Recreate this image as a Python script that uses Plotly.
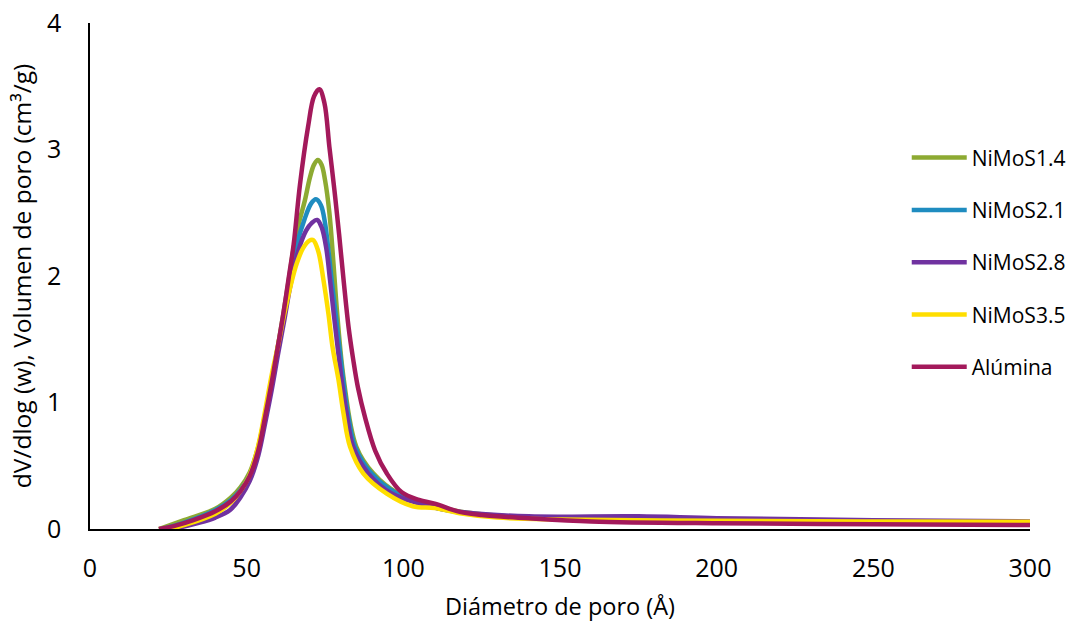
import plotly.graph_objects as go

# Pore size distribution (BJH) for NiMoS catalysts and the alumina support
x_nimos14 = [22, 30, 40, 45, 48, 51, 53.7, 56, 58, 60, 61.7, 63.5, 65.2, 67, 68.6, 70.2, 71.5, 72.7, 73.9, 75, 76.4, 77.7, 78.9, 81, 85, 90.4, 98.4, 110, 120, 140, 200, 250, 300]
y_nimos14 = [0.0, 0.07, 0.16, 0.25, 0.33, 0.45, 0.65, 0.92, 1.18, 1.45, 1.7, 1.98, 2.25, 2.45, 2.6, 2.78, 2.88, 2.917, 2.88, 2.76, 2.5, 2.1, 1.7, 1.18, 0.65, 0.44, 0.28, 0.18, 0.13, 0.09, 0.065, 0.06, 0.056]

x_nimos21 = [23, 30, 40, 45, 48, 51, 53.7, 56, 58, 60, 61.9, 63.7, 65.8, 68.5, 70.5, 72.1, 73.7, 75, 76.1, 77.2, 78.4, 80.8, 82.3, 84.6, 89.8, 97.9, 110, 120, 140, 200, 250, 300]
y_nimos21 = [0.0, 0.05, 0.15, 0.23, 0.31, 0.43, 0.64, 0.91, 1.17, 1.44, 1.7, 1.97, 2.23, 2.45, 2.57, 2.606, 2.56, 2.42, 2.2, 1.95, 1.7, 1.18, 0.915, 0.65, 0.44, 0.28, 0.17, 0.125, 0.09, 0.065, 0.055, 0.05]

x_nimos28 = [23, 28, 35, 40, 44.7, 48, 51, 53.7, 56, 58, 60, 62, 64, 66.5, 69, 70.8, 72.5, 74, 75.4, 76.6, 77.8, 80.3, 81.9, 84, 88.8, 96.3, 110, 120, 140, 175, 200, 250, 300]
y_nimos28 = [0.0, 0.01, 0.05, 0.09, 0.15, 0.25, 0.38, 0.58, 0.85, 1.1, 1.38, 1.65, 1.93, 2.2, 2.36, 2.42, 2.443, 2.38, 2.22, 1.97, 1.7, 1.18, 0.915, 0.65, 0.44, 0.28, 0.17, 0.13, 0.1, 0.1, 0.085, 0.07, 0.06]

x_nimos35 = [25, 30, 40, 45, 48, 51, 53.7, 56, 58, 60, 62, 64, 66, 68, 70, 71.2, 72.8, 74.5, 76.1, 77.4, 79.3, 80.9, 83, 87.2, 94.7, 103, 110, 118, 130, 150, 200, 250, 300]
y_nimos35 = [0.0, 0.03, 0.12, 0.21, 0.3, 0.43, 0.66, 0.95, 1.22, 1.45, 1.7, 1.92, 2.1, 2.22, 2.28, 2.285, 2.2, 1.97, 1.7, 1.44, 1.18, 0.915, 0.65, 0.44, 0.28, 0.18, 0.165, 0.125, 0.09, 0.075, 0.065, 0.06, 0.058]

x_alumina = [22, 27, 33, 40, 45, 48, 51, 53.7, 56, 58, 60, 61.7, 63.5, 65, 67, 69.6, 71.5, 73.2, 74.8, 76.4, 78, 79.5, 81, 82.5, 84, 85.5, 87.8, 91, 94.7, 99.5, 105, 110, 118, 125, 140, 160, 200, 250, 300]
y_alumina = [0.0, 0.025, 0.07, 0.14, 0.22, 0.3, 0.42, 0.62, 0.9, 1.16, 1.45, 1.7, 2.0, 2.25, 2.72, 3.18, 3.42, 3.476, 3.37, 3.02, 2.68, 2.33, 1.95, 1.6, 1.34, 1.12, 0.88, 0.62, 0.44, 0.29, 0.23, 0.2, 0.135, 0.11, 0.085, 0.06, 0.045, 0.038, 0.032]

series = [
    ("NiMoS1.4", x_nimos14, y_nimos14, "#8DAA32"),
    ("NiMoS2.1", x_nimos21, y_nimos21, "#1F8CC0"),
    ("NiMoS2.8", x_nimos28, y_nimos28, "#7032A0"),
    ("NiMoS3.5", x_nimos35, y_nimos35, "#FFDE00"),
    ("Alúmina", x_alumina, y_alumina, "#A3195B"),
]

x_ticks = [0, 50, 100, 150, 200, 250, 300]
y_ticks = [0, 1, 2, 3, 4]

FONT = "Open Sans"

fig = go.Figure()
for name, xs, ys, color in series:
    fig.add_trace(go.Scatter(
        x=xs, y=ys, name=name, mode="lines",
        line=dict(color=color, width=4.5, shape="spline", smoothing=1.0),
        legendgroup=name,
    ))

fig.update_layout(
    width=1068, height=622,
    margin=dict(l=90, r=38, t=23, b=93, autoexpand=False),
    paper_bgcolor="white", plot_bgcolor="white",
    font=dict(family=FONT, color="#000000"),
    showlegend=True,
    legend=dict(
        xref="container", yref="container",
        x=0.849, y=0.779, xanchor="left", yanchor="top",
        font=dict(family=FONT, size=21, color="#000000"),
        tracegroupgap=22, itemwidth=55,
        bgcolor="rgba(0,0,0,0)",
    ),
    xaxis=dict(
        range=[0, 300], tickvals=x_ticks, ticktext=[str(v) for v in x_ticks],
        showgrid=False, zeroline=False, showline=True, linecolor="#000000", linewidth=2,
        ticks="", tickfont=dict(family=FONT, size=25), ticklabelstandoff=16,
        automargin=False,
        title=dict(text="Diámetro de poro (Å)", font=dict(family=FONT, size=23.5), standoff=20),
    ),
    yaxis=dict(
        range=[0, 4], tickvals=y_ticks, ticktext=[str(v) for v in y_ticks],
        showgrid=False, zeroline=False, showline=True, linecolor="#000000", linewidth=1.5,
        ticks="", tickfont=dict(family=FONT, size=25), ticklabelstandoff=22,
        automargin=False,
        title=dict(text="dV/dlog (w), Volumen de poro (cm³/g)", font=dict(family=FONT, size=24.5), standoff=8),
    ),
)

fig.write_html("out.html")
